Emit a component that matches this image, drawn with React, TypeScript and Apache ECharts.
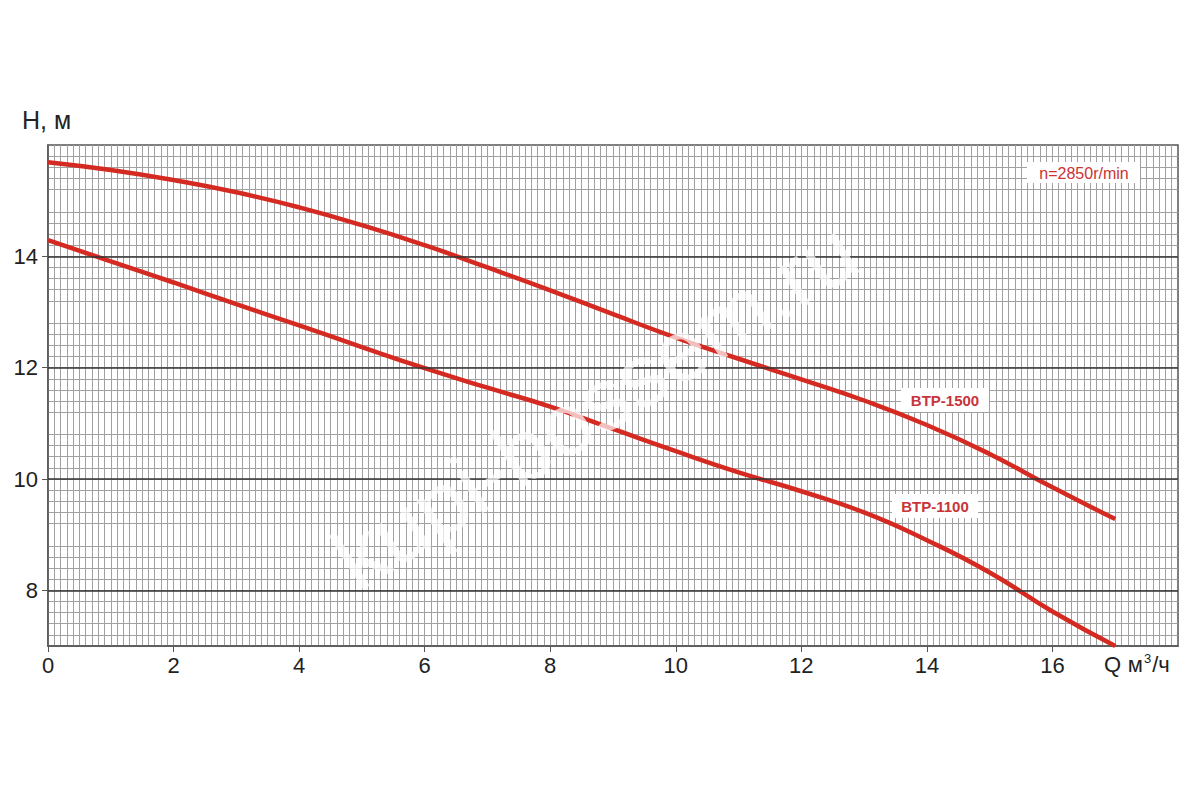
import React, { useEffect, useRef } from "react";
import * as echarts from "echarts";

const qValues = [0, 1, 2, 3, 4, 5, 6, 7, 8, 9, 10, 11, 12, 13, 14, 15, 16, 17];
const btp1500 = [15.69, 15.55, 15.37, 15.15, 14.88, 14.56, 14.2, 13.8, 13.39, 12.96, 12.54, 12.16, 11.79, 11.41, 10.97, 10.45, 9.85, 9.28];
const btp1100 = [14.29, 13.91, 13.53, 13.14, 12.76, 12.37, 11.99, 11.64, 11.3, 10.9, 10.5, 10.12, 9.78, 9.4, 8.9, 8.32, 7.62, 7.0];
const xTickLabels = [0, 2, 4, 6, 8, 10, 12, 14, 16];
const yTickLabels = [8, 10, 12, 14];
const majorLines = [8, 10, 12, 14];

const RED = "#d42a22";
const FONT = "Liberation Sans, Arial, sans-serif";

export default function App() {
  const ref = useRef<HTMLDivElement>(null);
  useEffect(() => {
    if (!ref.current) return;
    const chart = echarts.init(ref.current, null, { renderer: "svg" });
    const toPairs = (ys: number[]) => qValues.map((q, i) => [q, ys[i]]);
    chart.setOption({
      animation: false,
      backgroundColor: "#ffffff",
      grid: {
        left: 48,
        right: 22,
        top: 145,
        bottom: 154,
        show: true,
        borderColor: "#555",
        borderWidth: 1.5,
        backgroundColor: "transparent",
      },
      xAxis: {
        type: "value",
        min: 0,
        max: 18,
        interval: 2,
        axisLine: { show: true, lineStyle: { color: "#555", width: 1.5 } },
        axisTick: { show: true, length: 6, lineStyle: { color: "#555" }, customValues: xTickLabels },
        axisLabel: {
          customValues: xTickLabels,
          fontFamily: FONT,
          fontSize: 22,
          color: "#222",
          margin: 8,
        },
        splitLine: { show: true, lineStyle: { color: "#a0a0a0", width: 1 } },
        minorTick: { show: false, splitNumber: 20 },
        minorSplitLine: { show: true, lineStyle: { color: "#a0a0a0", width: 1 } },
      },
      yAxis: {
        type: "value",
        min: 7,
        max: 16,
        interval: 1,
        axisLine: { show: true, lineStyle: { color: "#555", width: 1.5 } },
        axisTick: { show: true, length: 6, lineStyle: { color: "#555" }, customValues: yTickLabels },
        axisLabel: {
          customValues: yTickLabels,
          fontFamily: FONT,
          fontSize: 22,
          color: "#222",
          margin: 10,
        },
        splitLine: { show: true, lineStyle: { color: "#a0a0a0", width: 1 } },
        minorTick: { show: false, splitNumber: 5 },
        minorSplitLine: { show: true, lineStyle: { color: "#a0a0a0", width: 1 } },
      },
      series: [
        {
          type: "line",
          data: [],
          z: 1,
          markLine: {
            silent: true,
            symbol: "none",
            label: { show: false },
            lineStyle: { color: "#333", width: 1.5, type: "solid" },
            data: majorLines.map((v) => ({ yAxis: v })),
          },
        },
        {
          name: "BTP-1500",
          type: "line",
          smooth: true,
          showSymbol: false,
          z: 3,
          lineStyle: { color: RED, width: 4.5 },
          data: toPairs(btp1500),
        },
        {
          name: "BTP-1100",
          type: "line",
          smooth: true,
          showSymbol: false,
          z: 3,
          lineStyle: { color: RED, width: 4.5 },
          data: toPairs(btp1100),
        },
      ],
      graphic: [
        {
          type: "text",
          left: 22,
          top: 107,
          style: { text: "H, м", fontFamily: FONT, fontSize: 25, fill: "#222" },
        },
        {
          type: "text",
          left: 1104,
          top: 652,
          style: {
            text: "{a|Q}  {a|м}{s|3}{a|/ч}",
            rich: {
              a: { fontFamily: FONT, fontSize: 22, fill: "#222", verticalAlign: "bottom" },
              s: { fontFamily: FONT, fontSize: 13, fill: "#222", verticalAlign: "top", padding: [0, 1, 10, 1] },
            },
          },
        },
        {
          type: "rect",
          shape: { x: 1027, y: 162, width: 113, height: 21 },
          style: { fill: "#ffffff" },
          z: 10,
        },
        {
          type: "text",
          x: 1084,
          y: 173,
          z: 11,
          style: {
            text: "n=2850r/min",
            fontFamily: FONT,
            fontSize: 16,
            fill: "#cc3333",
            align: "center",
            verticalAlign: "middle",
          },
        },
        {
          type: "rect",
          shape: { x: 901, y: 388, width: 88, height: 24 },
          style: { fill: "#ffffff" },
          z: 10,
        },
        {
          type: "text",
          x: 945,
          y: 400,
          z: 11,
          style: {
            text: "BTP-1500",
            fontFamily: FONT,
            fontSize: 15,
            fontWeight: "bold",
            fill: "#c8343a",
            align: "center",
            verticalAlign: "middle",
          },
        },
        {
          type: "rect",
          shape: { x: 892, y: 494, width: 86, height: 24 },
          style: { fill: "#ffffff" },
          z: 10,
        },
        {
          type: "text",
          x: 935,
          y: 506,
          z: 11,
          style: {
            text: "BTP-1100",
            fontFamily: FONT,
            fontSize: 15,
            fontWeight: "bold",
            fill: "#c8343a",
            align: "center",
            verticalAlign: "middle",
          },
        },
        {
          type: "text",
          x: 595,
          y: 405,
          rotation: 0.57,
          z: 12,
          style: {
            text: "kupi-bossem.ru",
            fontFamily: FONT,
            fontSize: 88,
            fill: "rgba(255,255,255,0.7)",
            align: "center",
            verticalAlign: "middle",
          },
        },
      ],
    });
    return () => chart.dispose();
  }, []);
  return (
    <div
      ref={ref}
      style={{ position: "fixed", left: 0, top: 0, width: 1200, height: 800 }}
    />
  );
}
